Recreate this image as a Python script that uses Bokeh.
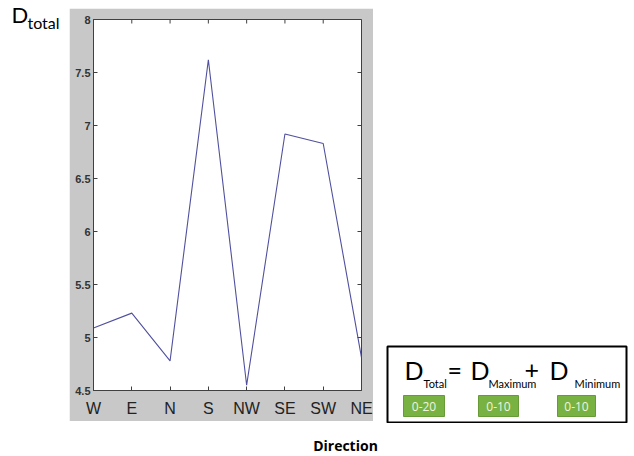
import math
from bokeh.plotting import figure
from bokeh.models import Range1d, FixedTicker, CustomJSTickFormatter, Spacer
from bokeh.layouts import row, column
from bokeh.core.properties import value
from bokeh.embed import file_html
from bokeh.resources import INLINE

# ---------------- data ----------------
directions = ["W", "E", "N", "S", "NW", "SE", "SW", "NE"]
d_total = [5.09, 5.23, 4.78, 7.62, 4.55, 6.92, 6.83, 4.81]
y_ticks = [4.5, 5, 5.5, 6, 6.5, 7, 7.5, 8]
badge_labels = ["0-20", "0-10", "0-10"]

positions = list(range(1, len(directions) + 1))

GREY = "#c8c8c8"
DARK = "#404040"
LINE = "#50509e"

# ---------------- main chart ----------------
p = figure(width=304, height=413, title=None,
           x_range=Range1d(1, len(directions)), y_range=Range1d(4.5, 8),
           output_backend="svg", toolbar_location=None, frame_align=False,
           min_border_left=24, min_border_right=12,
           min_border_top=11, min_border_bottom=31)
p.background_fill_color = "white"
p.border_fill_color = GREY
p.outline_line_color = DARK
p.grid.visible = False

p.line(x=positions, y=d_total, line_color=LINE, line_width=1.1)

xfmt = CustomJSTickFormatter(args=dict(cats=directions),
                             code="return cats[Math.round(tick) - 1];")
yfmt = CustomJSTickFormatter(code="return tick.toString();")

xa = p.xaxis[0]
xa.ticker = FixedTicker(ticks=positions)
xa.formatter = xfmt
xa.major_label_text_font = "Liberation Sans"
xa.major_label_text_font_size = "16px"
xa.major_label_text_color = "#222222"
xa.major_label_standoff = 9

ya = p.yaxis[0]
ya.ticker = FixedTicker(ticks=y_ticks)
ya.formatter = yfmt
ya.major_label_text_font = "Liberation Sans"
ya.major_label_text_font_size = "11px"
ya.major_label_text_font_style = "bold"
ya.major_label_text_color = "#333333"
ya.major_label_standoff = 3

for ax in [xa, ya]:
    ax.axis_line_color = DARK
    ax.major_tick_line_color = DARK
    ax.major_tick_in = 4
    ax.major_tick_out = 0
    ax.minor_tick_line_color = None

# inward ticks on the top and right edges (markers clipped by the frame)
p.scatter(x=positions, y=[p.y_range.end] * len(positions), marker="dash",
          size=8, angle=math.pi / 2, line_color=DARK, line_width=1)
p.scatter(x=[p.x_range.end] * len(y_ticks), y=y_ticks, marker="dash",
          size=8, line_color=DARK, line_width=1)


def deco(width, height):
    f = figure(width=width, height=height, title=None,
               x_range=Range1d(0, width), y_range=Range1d(height, 0),
               x_axis_type=None, y_axis_type=None, frame_align=False,
               output_backend="svg", toolbar_location=None, min_border=0)
    f.outline_line_color = None
    f.background_fill_color = "white"
    f.border_fill_color = "white"
    return f


# ---------------- left: D_total label ----------------
left = deco(69, 423)
left.text(x=[11], y=[14], text=["D"], text_font=value("Lato"),
          text_font_size="22px", text_color="black", text_baseline="alphabetic")
left.text(x=[27], y=[21.5], text=["total"], text_font=value("Lato"),
          text_font_size="16px", text_color="black", text_baseline="alphabetic")

# ---------------- right: equation box ----------------
right = deco(261, 423)
right.quad(left=[14], right=[253], top=[346], bottom=[422],
           fill_color="white", line_color="black", line_width=2)

big_x = [31, 97, 176]
sub_x = [50, 115, 201]
subs = ["Total", "Maximum", "Minimum"]
right.text(x=big_x, y=[369] * 3, text=["D"] * 3, text_font=value("Lato"),
           text_font_size="25px", text_color="black", text_baseline="alphabetic")
right.text(x=sub_x, y=[383] * 3, text=subs, text_font=value("Lato"),
           text_font_size="11px", text_color="black", text_baseline="alphabetic")
right.text(x=[74, 151], y=[369, 369], text=["=", "+"], text_font=value("Lato"),
           text_font_size="25px", text_color="black", text_baseline="alphabetic")

bl = [30, 105, 184]
br = [71, 145, 222]
right.quad(left=bl, right=br, top=[395] * 3, bottom=[416] * 3,
           fill_color="#78b242", line_color="#679b37", line_width=1)
right.text(x=[(a + b) / 2 for a, b in zip(bl, br)], y=[405.5] * 3, text=badge_labels,
           text_font=value("Open Sans"), text_font_size="12px",
           text_color="#f0f5e0", text_align="center", text_baseline="middle")

# ---------------- bottom: axis title ----------------
bottom = deco(634, 33)
bottom.text(x=[345], y=[22], text=["Direction"], text_font=value("Open Sans"),
            text_font_size="14px", text_font_style="bold", text_color="black",
            text_align="center", text_baseline="middle")

middle = column(Spacer(width=304, height=8), p)
layout = column(row(left, middle, right), bottom)
open("out.html", "w").write(file_html(layout, INLINE))
